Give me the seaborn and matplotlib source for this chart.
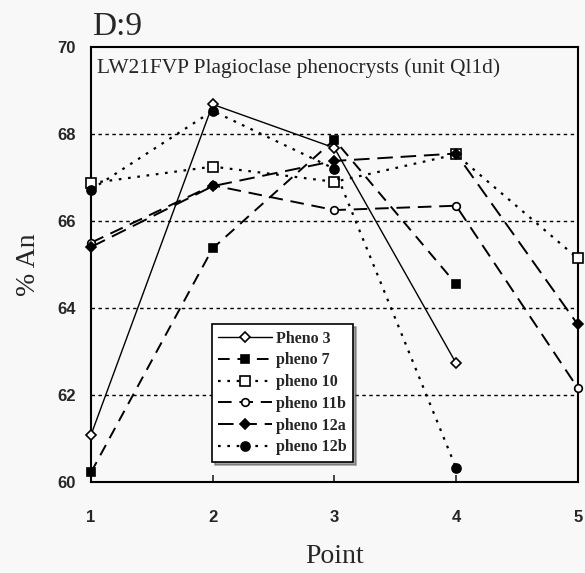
import numpy as np
import pandas as pd
import matplotlib
matplotlib.use("Agg")
import matplotlib.pyplot as plt
import seaborn as sns

# Anorthite content along traverse points for each phenocryst
points = [1, 2, 3, 4, 5]
pheno_3 = [61.08, 68.68, 67.68, 62.73, np.nan]
pheno_7 = [60.22, 65.37, 67.87, 64.55, np.nan]
pheno_10 = [66.87, 67.25, 66.90, 67.53, 65.14]
pheno_11b = [65.50, 66.82, 66.25, 66.35, 62.16]
pheno_12a = [65.40, 66.80, 67.38, 67.55, 63.62]
pheno_12b = [66.72, 68.53, 67.20, 60.32, np.nan]

series_names = ["Pheno 3", "pheno 7", "pheno 10", "pheno 11b", "pheno 12a", "pheno 12b"]
series_values = [pheno_3, pheno_7, pheno_10, pheno_11b, pheno_12a, pheno_12b]

y_ticks = [60, 62, 64, 66, 68, 70]
grid_levels = [62, 64, 66, 68]

rows = []
for name, vals in zip(series_names, series_values):
    for p, v in zip(points, vals):
        if not np.isnan(v):
            rows.append({"Point": p, "An": v, "series": name})
df = pd.DataFrame(rows)

sns.set_style("white")
serif = ["Liberation Serif", "DejaVu Serif"]
sans = ["Liberation Sans", "DejaVu Sans"]

styles = {
    "Pheno 3":   dict(dashes=None,      marker="D", ms=5,   mfc="white", lw=1.0),
    "pheno 7":   dict(dashes=(6, 4),    marker="s", ms=6,   mfc="black", lw=1.4),
    "pheno 10":  dict(dashes=(1.2, 3),  marker="s", ms=6.5, mfc="white", lw=1.6),
    "pheno 11b": dict(dashes=(7, 4),    marker="o", ms=5.5, mfc="white", lw=1.4),
    "pheno 12a": dict(dashes=(8, 4),    marker="D", ms=5.5, mfc="black", lw=1.4),
    "pheno 12b": dict(dashes=(1.2, 3),  marker="o", ms=6.5, mfc="black", lw=1.6),
}

fig = plt.figure(figsize=(5.85, 5.73), dpi=100, facecolor="#f8f8f8")
ax = fig.add_axes([0.1556, 0.159, 0.832, 0.759])
ax.set_facecolor("#f8f8f8")

for y in grid_levels:
    ax.axhline(y, color="black", lw=1.0, ls=(0, (2.5, 2.5)), zorder=1)

for name in series_names:
    st = styles[name]
    sub = df[df["series"] == name]
    sns.lineplot(data=sub, x="Point", y="An", ax=ax, color="black",
                 lw=st["lw"], marker=st["marker"], markersize=st["ms"],
                 markerfacecolor=st["mfc"], markeredgecolor="black",
                 markeredgewidth=1.2, label=name, zorder=3)
    line = ax.get_lines()[-1]
    if st["dashes"] is not None:
        line.set_dashes(st["dashes"])
    line.set_clip_on(False)

ax.set_xlim(1, 5)
ax.set_ylim(60, 70)
ax.set_xticks(points)
ax.set_yticks(y_ticks)
ax.tick_params(axis="x", direction="in", length=5, width=1.2, pad=20, bottom=True)
ax.tick_params(axis="y", length=0, pad=11, left=True)
for lab in ax.get_xticklabels() + ax.get_yticklabels():
    lab.set_fontfamily(sans)
    lab.set_fontweight("bold")
    lab.set_fontsize(12)

for sp in ax.spines.values():
    sp.set_visible(True)
    sp.set_color("black")
    sp.set_linewidth(1.5)

ax.set_xlabel("Point", fontfamily=serif, fontsize=20, labelpad=14)
ax.set_ylabel("% An", fontfamily=serif, fontsize=20, labelpad=12)

ax.text(0.012, 0.975, "LW21FVP Plagioclase phenocrysts (unit Ql1d)",
        transform=ax.transAxes, ha="left", va="top",
        fontfamily=serif, fontsize=15.4)
fig.text(0.157, 0.939, "D:9", fontfamily=serif, fontsize=24,
         ha="left", va="baseline")

leg = ax.legend(loc="lower left", bbox_to_anchor=(0.248, 0.046), borderaxespad=0,
                frameon=True, fancybox=False, shadow=True, handlelength=3.4,
                handletextpad=0.2, labelspacing=0.36, borderpad=0.4,
                prop={"family": serif, "weight": "bold", "size": 11.5})
leg.get_frame().set_edgecolor("black")
leg.get_frame().set_linewidth(1.2)
leg.get_frame().set_facecolor("white")

fig.savefig("out.png", dpi=100, facecolor=fig.get_facecolor())
